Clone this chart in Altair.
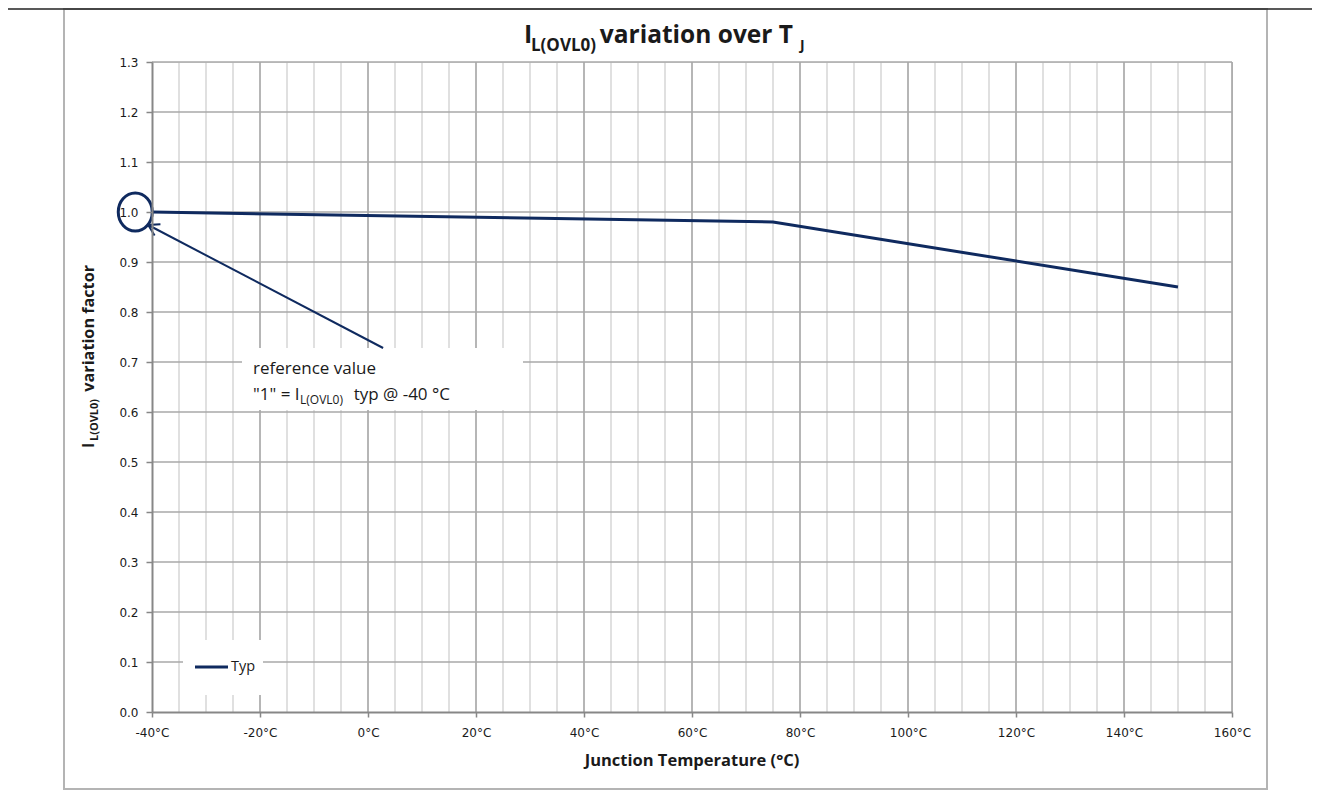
import altair as alt
import pandas as pd

# ---- data ----
temp_c = [-40, 75, 150]
typ_factor = [1.0, 0.98, 0.85]
series_name = "Typ"

x_ticks = [-40, -20, 0, 20, 40, 60, 80, 100, 120, 140, 160]
major_grid_x = [-20, 0, 20, 40, 60, 80, 100, 120, 140, 160]
minor_grid_x = [-35, -30, -25, -15, -10, -5, 5, 10, 15, 25, 30, 35, 45, 50, 55,
                65, 70, 75, 85, 90, 95, 105, 110, 115, 125, 130, 135, 145, 150, 155]
y_ticks = [0.0, 0.1, 0.2, 0.3, 0.4, 0.5, 0.6, 0.7, 0.8, 0.9, 1.0, 1.1, 1.2, 1.3]
grid_y = [0.1, 0.2, 0.3, 0.4, 0.5, 0.6, 0.7, 0.8, 0.9, 1.0, 1.1, 1.2, 1.3]

title_parts = ["I", "L(OVL0)", "variation over T", "J"]
ytitle_parts = ["I", "L(OVL0)", "variation factor"]
xtitle = "Junction Temperature (°C)"
note_line1 = "reference value"
note_line2_parts = ['"1" = I', "L(OVL0)", "typ @ -40 °C"]

# annotation anchors (data coordinates)
circle_t = [-43.1]
circle_v = [1.0]
arrow_t = [2.8, -40.7]
arrow_v = [0.728, 0.974]

W, H = 1080, 650
X0, Y0 = 152, 62  # plot origin on page
NAVY = "#0f2a5f"
TXT = "#1a1a1a"
FONT = "Open Sans"


def px(x):
    return x - X0


def py(y):
    return y - Y0


xs = alt.Scale(domain=[-40, 160], nice=False, zero=False)
ys = alt.Scale(domain=[0, 1.3], nice=False, zero=False)
AX = dict(labelFont="DejaVu Sans", labelFontSize=12, labelColor=TXT, labelFlush=False,
          domainColor="#878787", domainWidth=2, tickColor="#878787", tickWidth=1.5,
          title=None, grid=False, zindex=1)
x_axis = alt.Axis(values=x_ticks, labelExpr="datum.value + '°C'",
                  tickSize=5, labelPadding=10, **AX)
y_axis = alt.Axis(values=y_ticks, format=".1f", tickSize=6, labelPadding=8, **AX)


def X(f="T:Q"):
    return alt.X(f, scale=xs, axis=x_axis)


def Y(f="F:Q"):
    return alt.Y(f, scale=ys, axis=y_axis)


df = pd.DataFrame({"T": temp_c, "F": typ_factor, "s": [series_name] * len(temp_c)})

minor_v = alt.Chart(pd.DataFrame({"T": minor_grid_x})).mark_rule(
    color="#d6d6d6", strokeWidth=1.5).encode(x=X())
major_v = alt.Chart(pd.DataFrame({"T": major_grid_x})).mark_rule(
    color="#9e9e9e", strokeWidth=1.5).encode(x=X())
hgrid = alt.Chart(pd.DataFrame({"F": grid_y})).mark_rule(
    color="#a8a8a8", strokeWidth=1.5).encode(y=Y())

one = pd.DataFrame({"k": [0]})


def box(x1, x2, y1, y2):
    return alt.Chart(one).mark_rect(fill="white").encode(
        x=alt.value(px(x1)), x2=alt.value(px(x2)),
        y=alt.value(py(y1)), y2=alt.value(py(y2)))


def txt(s, x, y, size, weight="normal", angle=0, align="left",
        baseline="alphabetic", color=TXT):
    return alt.Chart(pd.DataFrame({"t": [s]})).mark_text(
        font=FONT, fontSize=size, fontWeight=weight, angle=angle, align=align,
        baseline=baseline, color=color).encode(
        text="t:N", x=alt.value(px(x)), y=alt.value(py(y)))


note_box = box(242, 523, 348, 410)
legend_box = box(183, 263, 640, 695)
outer = alt.Chart(one).mark_rect(fill="transparent", stroke="#b4b4b4", strokeWidth=2).encode(
    x=alt.value(px(64)), x2=alt.value(px(1267)), y=alt.value(py(9)), y2=alt.value(py(789)))
top_line = alt.Chart(one).mark_rule(color="#222222", strokeWidth=1.5).encode(
    x=alt.value(px(0)), x2=alt.value(px(1330)), y=alt.value(py(9)))

line = alt.Chart(df).mark_line(color=NAVY, strokeWidth=3).encode(x=X(), y=Y())

ellipse = alt.Chart(pd.DataFrame({"T": circle_t, "F": circle_v})).mark_point(
    shape="M-1,0A1,1.12,0,1,1,1,0A1,1.12,0,1,1,-1,0Z", size=1156,
    filled=False, stroke=NAVY, strokeWidth=3, opacity=1).encode(x=X(), y=Y())

arrow = alt.Chart(pd.DataFrame({"T": arrow_t, "F": arrow_v, "o": [0, 1]})).mark_line(
    color=NAVY, strokeWidth=2).encode(x=X(), y=Y(), order="o:Q")
arrow_head = alt.Chart(pd.DataFrame({"T": arrow_t[-1:], "F": arrow_v[-1:]})).mark_point(
    shape="M-1,-0.6L0,0L-1,0.6", size=440, filled=False, stroke=NAVY,
    strokeWidth=2, opacity=1, angle=207.6).encode(x=X(), y=Y())

legend_line = alt.Chart(one).mark_rule(color=NAVY, strokeWidth=3).encode(
    x=alt.value(px(195)), x2=alt.value(px(228)), y=alt.value(py(667)))

texts = [
    txt(title_parts[0], 524, 43, 25, "bold"),
    txt(title_parts[1], 531, 51, 17, "bold"),
    txt(title_parts[2], 793, 43, 24.5, "bold", align="right"),
    txt(title_parts[3], 800, 50, 14, "bold"),
    txt(ytitle_parts[0], 94, 448, 16, "bold", angle=270),
    txt(ytitle_parts[1], 98, 441, 11, "bold", angle=270),
    txt(ytitle_parts[2], 94, 265, 16.2, "bold", angle=270, align="right"),
    txt(xtitle, 692, 766, 16.5, "bold", align="center"),
    txt(note_line1, 253, 374, 17),
    txt(note_line2_parts[0], 253, 400, 17),
    txt(note_line2_parts[1], 300, 404, 12),
    txt(note_line2_parts[2], 450, 400, 17, align="right"),
    txt(series_name, 231, 667, 14.5, baseline="middle"),
]

chart = alt.layer(
    outer, top_line, minor_v, major_v, hgrid, note_box, legend_box,
    line, arrow, arrow_head, ellipse, legend_line, *texts
).properties(
    width=W, height=H,
    autosize=alt.AutoSizeParams(type="none"),
    padding={"left": 144, "top": 54, "right": 80, "bottom": 80},
).configure_view(stroke=None).configure(background="white")

chart.save("out.html", embed_options={"renderer": "svg", "actions": False})
